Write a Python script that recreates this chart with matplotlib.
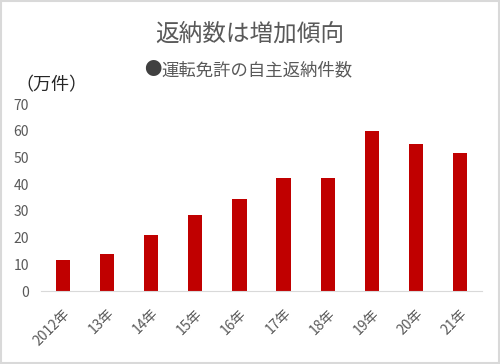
import matplotlib
matplotlib.use("Agg")
import matplotlib.pyplot as plt
from matplotlib.patches import Rectangle

plt.rcParams['font.family'] = ['Noto Sans CJK JP', 'DejaVu Sans']

categories = ["2012年", "13年", "14年", "15年", "16年", "17年", "18年", "19年", "20年", "21年"]
values = [11.7, 13.7, 20.8, 28.5, 34.6, 42.3, 42.2, 60.1, 55.2, 51.7]
yticks = [0, 10, 20, 30, 40, 50, 60, 70]
title = "返納数は増加傾向"
series_name = "運転免許の自主返納件数"
unit = "（万件）"

fig = plt.figure(figsize=(5, 3.64), dpi=100)
ax = fig.add_axes([0.082, 0.2005, 0.882, 0.5135])
x = list(range(len(categories)))
ax.bar(x, values, width=0.32, color="#C00000")
ax.set_xlim(-0.5, len(categories) - 0.5)
ax.set_ylim(0, 70)
ax.set_yticks(yticks)
ax.set_yticklabels([str(v) for v in yticks], fontsize=10, color="#595959")
ax.set_xticks(x)
ax.set_xticklabels(categories, rotation=45, ha="right", rotation_mode="anchor",
                   fontsize=10, color="#595959")
for s in ["top", "right", "left"]:
    ax.spines[s].set_visible(False)
ax.spines["bottom"].set_color("#d9d9d9")
ax.tick_params(axis="both", length=0)
ax.tick_params(axis="y", pad=8.5)
ax.tick_params(axis="x", pad=11)

fig.text(0.5, 0.905, title, ha="center", va="center", fontsize=17, color="#595959")
fig.text(0.289, 0.807, "●", ha="left", va="center", fontsize=12.5, color="#404040")
fig.text(0.322, 0.807, series_name, ha="left", va="center", fontsize=12.5, color="#595959")
fig.text(0.03, 0.765, unit, ha="left", va="center", fontsize=13, color="#262626")

fig.patches.append(Rectangle((0.002, 0.003), 0.996, 0.994, transform=fig.transFigure,
                             fill=False, edgecolor="#d9d9d9", linewidth=1.5))
fig.savefig("out.png", dpi=100)
